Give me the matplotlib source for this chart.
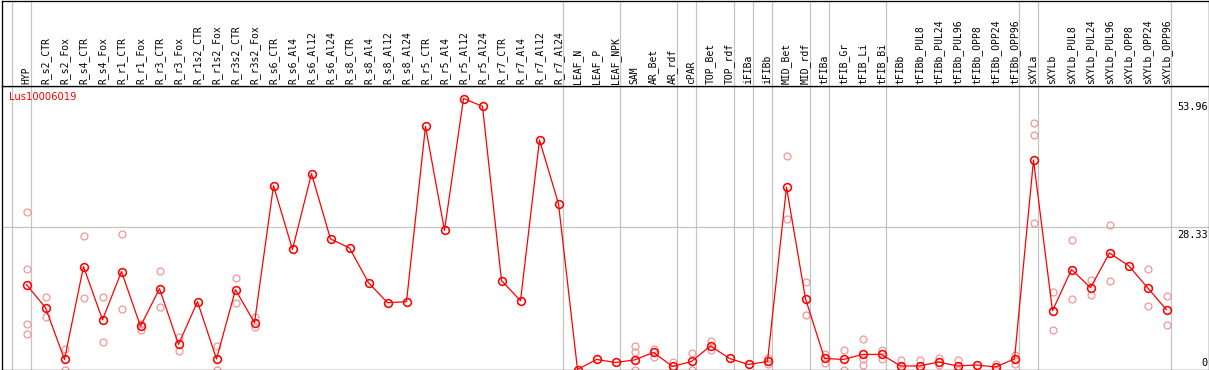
import matplotlib
matplotlib.use("Agg")
import matplotlib.pyplot as plt
import numpy as np


GENE_ID = "Lus10006019"

SAMPLES = [
    "HYP",
    "R_s2_CTR", "R_s2_Fox", "R_s4_CTR", "R_s4_Fox", "R_r1_CTR", "R_r1_Fox",
    "R_r3_CTR", "R_r3_Fox", "R_r1s2_CTR", "R_r1s2_Fox", "R_r3s2_CTR",
    "R_r3s2_Fox", "R_s6_CTR", "R_s6_Al4", "R_s6_Al12", "R_s6_Al24",
    "R_s8_CTR", "R_s8_Al4", "R_s8_Al12", "R_s8_Al24", "R_r5_CTR", "R_r5_Al4",
    "R_r5_Al12", "R_r5_Al24", "R_r7_CTR", "R_r7_Al4", "R_r7_Al12", "R_r7_Al24",
    "LEAF_N", "LEAF_P", "LEAF_NPK",
    "SAM", "AR_Bet", "AR_rdf",
    "cPAR",
    "TOP_Bet", "TOP_rdf",
    "iFIBa",
    "iFIBb",
    "MID_Bet", "MID_rdf",
    "tFIBa",
    "tFIB_Gr", "tFIB_Li", "tFIB_Bi",
    "tFIBb", "tFIBb_PUL8", "tFIBb_PUL24", "tFIBb_PUL96", "tFIBb_OPP8",
    "tFIBb_OPP24", "tFIBb_OPP96",
    "sXYLa",
    "sXYLb", "sXYLb_PUL8", "sXYLb_PUL24", "sXYLb_PUL96", "sXYLb_OPP8",
    "sXYLb_OPP24", "sXYLb_OPP96",
]

# number of samples in each tissue block (separated by grey lines)
GROUP_SIZES = [1, 28, 3, 3, 1, 2, 1, 1, 2, 1, 3, 7, 1, 7]

MEANS = [
    16.9,
    12.3, 2.0, 20.5, 9.9, 19.5, 8.6,
    16.1, 5.0, 13.5, 2.1, 15.9,
    9.3, 36.6, 23.9, 39.0, 26.0,
    24.2, 17.3, 13.3, 13.5, 48.4, 27.7,
    53.96, 52.4, 17.7, 13.7, 45.7, 33.0,
    0.0, 2.0, 1.4,
    1.9, 3.4, 0.6,
    1.6,
    4.7, 2.2,
    1.0,
    1.6,
    36.3, 14.1,
    2.2,
    2.0, 3.0, 3.0,
    0.7, 0.7, 1.5, 0.7, 0.9,
    0.5, 2.1,
    41.7,
    11.7, 19.9, 16.3, 23.2, 20.7,
    16.3, 11.9,
]

REPLICATES = [
    [31.3, 20.0, 9.1, 7.1],
    [14.5, 10.4], [4.1, 0.0], [26.6, 14.3], [14.5, 5.5], [26.9, 12.1], [9.1, 7.8],
    [19.7, 12.5], [6.4, 3.6], [], [4.6, 0.0], [18.3, 13.3],
    [10.4, 8.4], [], [], [], [],
    [], [], [], [], [], [],
    [], [], [], [], [], [],
    [], [], [],
    [4.7, 3.4, 0.0], [4.1, 2.5], [1.4, 0.1],
    [3.2, 0.0],
    [5.6, 3.8], [],
    [],
    [2.3, 1.0],
    [42.6, 29.9], [17.4, 10.8],
    [3.0, 1.3],
    [3.8, 0.0], [6.1, 2.0, 0.9], [3.9, 2.1],
    [1.8, 0.0], [1.8, 0.0], [2.3, 0.8], [1.8, 0.0], [],
    [1.1, 0.0], [2.8, 1.1],
    [49.1, 46.7, 29.2],
    [15.5, 7.9], [25.7, 14.1], [17.9, 14.9], [28.8, 17.7], [],
    [20.0, 12.7], [14.7, 8.9],
]

Y_MARKS = [0, 28.33, 53.96]
GRID_VALUES = [28.33]

LINE_COLOR = "#ff0000"
REP_COLOR = "#f09898"
GRID_COLOR = "#c4c4c4"
MONO = "DejaVu Sans Mono"

FIG_W, FIG_H = 1209, 370
HEADER_ROWS = 85.5
PX = 0.72  # one pixel in points at dpi 100


def add_group_lines(ax) -> None:
    """
    Draw the grey separators after each tissue block.
    """

    ends = np.cumsum([0] + GROUP_SIZES) - 1
    for end in ends:
        ax.axvline(end + 0.24, color=GRID_COLOR, lw=PX * 1.2, zorder=0)


def plot_profile(ax) -> None:
    x = np.arange(len(SAMPLES))

    rep_x = [i for i, reps in enumerate(REPLICATES) for _ in reps]
    rep_y = [v for reps in REPLICATES for v in reps]

    ax.plot(
        rep_x, rep_y, linestyle="none", marker="o", ms=5.0,
        mfc="none", mec=REP_COLOR, mew=0.9, zorder=2, clip_on=True,
    )
    ax.plot(
        x, MEANS, color=LINE_COLOR, lw=0.9, marker="o", ms=5.6,
        mfc="none", mec=LINE_COLOR, mew=1.15, zorder=3,
    )

    for val in GRID_VALUES:
        ax.axhline(val, color=GRID_COLOR, lw=PX * 1.2, zorder=0)

    for val in Y_MARKS:
        if val == 0:
            va, dy = "baseline", 3.5
        else:
            va, dy = "top", -3
        ax.annotate(
            f"{val:g}", xy=(1, val), xycoords=("axes fraction", "data"),
            xytext=(-1, dy), textcoords="offset pixels",
            ha="right", va=va, family=MONO, fontsize=7.4, color="black",
        )

    ax.annotate(
        GENE_ID, xy=(0, 1), xycoords="axes fraction",
        xytext=(8, -11.5), textcoords="offset pixels",
        ha="left", va="center", fontsize=7.2, color=LINE_COLOR,
    )


def main() -> None:
    fig = plt.figure(figsize=(FIG_W / 100, FIG_H / 100), dpi=100)

    left = 1.5 / FIG_W
    width = 1207 / FIG_W
    plot_h = 369.5 - HEADER_ROWS

    ax = fig.add_axes([left, 0.5 / FIG_H, width, plot_h / FIG_H])
    hax = fig.add_axes([left, (FIG_H - HEADER_ROWS) / FIG_H, width, 85 / FIG_H])

    # x: 19 px per sample, first sample 25 px from the left frame
    x_lo = -25 / 19
    x_hi = x_lo + 1207 / 19
    y_top = Y_MARKS[-1] * plot_h / 271

    ax.set_xlim(x_lo, x_hi)
    ax.set_ylim(0, y_top)
    hax.set_xlim(x_lo, x_hi)
    hax.set_ylim(HEADER_ROWS, 0.5)

    for a in (ax, hax):
        a.set_xticks([])
        a.set_yticks([])
        for spine in a.spines.values():
            spine.set_linewidth(PX * 1.3)
            spine.set_color("black")
        add_group_lines(a)

    for i, name in enumerate(SAMPLES):
        hax.text(
            i, 83.5, name, rotation=90, ha="center", va="bottom",
            family=MONO, fontsize=7.0, color="black",
        )

    plot_profile(ax)

    fig.savefig("out.png", dpi=100)
    plt.close(fig)


if __name__ == "__main__":
    main()
